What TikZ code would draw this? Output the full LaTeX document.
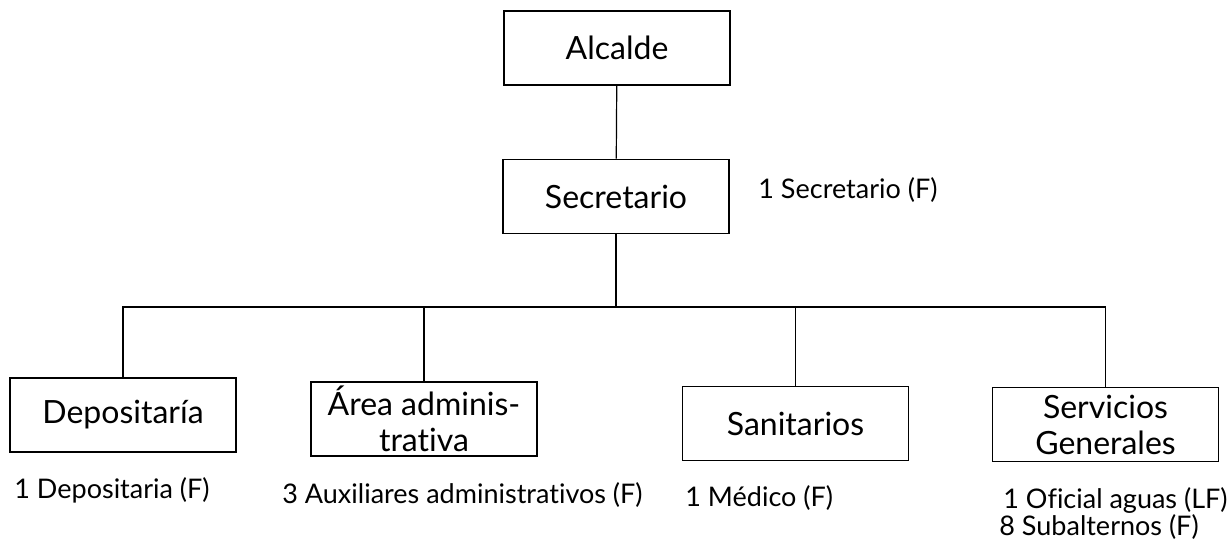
\documentclass[tikz,border=0pt]{standalone}
\usepackage{fontspec}
\setmainfont{Lato}[Ligatures={NoCommon,NoRare}]
\begin{document}
\begin{tikzpicture}[x=0.5pt,y=-0.5pt,
  orgbox/.style={draw=black, line width=0.8pt, minimum width=113pt, minimum height=37pt,
    inner sep=1pt, align=center, font=\fontsize{16}{18}\selectfont},
  conn/.style={draw=black, line width=0.6pt},
  staff/.style={anchor=west, inner sep=0pt, font=\fontsize{13.5}{16}\selectfont}]
\fill[white] (0,0) rectangle (1230,553);
\useasboundingbox (0,0) rectangle (1230,553);
% boxes
\node[orgbox] (alc) at (617,48) {Alcalde};
\node[orgbox] (sec) at (616,196.5) {Secretario};
\node[orgbox] (dep) at (123,415) {Depositaría};
\node[orgbox] (are) at (424,419) {Área adminis-\\trativa};
\node[orgbox] (san) at (795.5,423.5) {Sanitarios};
\node[orgbox] (srv) at (1105.5,424.5) {Servicios\\Generales};
% connectors
\coordinate (bus) at (616,307);
\draw[conn] (alc) -- (sec);
\draw[conn] (sec) -- (bus);
\draw[conn] (dep.north) |- (bus) -| (srv.north);
\draw[conn] (are.north) -- (are.north |- bus);
\draw[conn] (san.north) -- (san.north |- bus);
% staff labels
\node[staff] (lsec) at (758,190) {1 Secretario (F)};
\node[staff] (ldep) at (14,490) {1 Depositaria (F)};
\node[staff] (lare) at (282,495) {3 Auxiliares administrativos (F)};
\node[staff] (lsan) at (685,498) {1 Médico (F)};
\node[staff] (lsrv1) at (1003,500) {1 Oficial aguas (LF)};
\node[staff] (lsrv2) at (999,527) {8 Subalternos (F)};
\end{tikzpicture}
\end{document}
